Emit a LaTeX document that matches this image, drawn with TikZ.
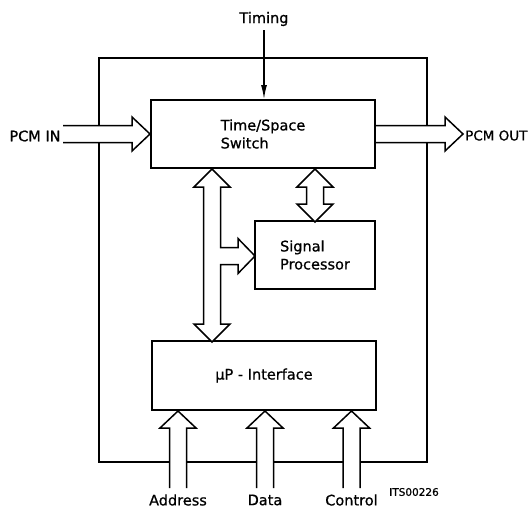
\documentclass[tikz,border=0pt]{standalone}
\usepackage{fontspec}
\setmainfont{DejaVu Sans}[FakeBold=0.8]
\usetikzlibrary{arrows.meta,calc}
\pgfdeclarelayer{bg}
\pgfsetlayers{bg,main}
\tikzset{
  box/.style={draw, line width=2pt, inner sep=0pt, font=\fontsize{14.5}{18}\selectfont},
  lbl/.style={inner sep=0pt, font=\fontsize{14.5}{17}\selectfont},
  fat/.style={draw, fill=white, line width=1.5pt, line join=miter},
  fatline/.style={draw, line width=1.5pt, line join=miter},
  framebox/.style={draw, line width=2.6pt, inner sep=0pt},
}
\newcommand{\openfat}[1]{\fill[white] #1 -- cycle; \path[fatline] #1;}
\begin{document}
\begin{tikzpicture}[x=1pt,y=-1pt]
\useasboundingbox (0,0) rectangle (531,517);
% boxes
\node[box, minimum width=224pt, minimum height=68pt, align=left] (sw) at (263,134) {Time/Space\\Switch};
\node[box, minimum width=120pt, minimum height=68pt, align=left] (sp) at (315,255) {Signal\\Processor};
\node[box, minimum width=224pt, minimum height=69pt] (up) at (264,375.5) {µP - Interface};
% labels
\node[lbl] (timing) at (264,19) {Timing};
\node[lbl] (pcmin) at (35,136) {PCM IN};
\node[lbl, anchor=west, font=\fontsize{13.5}{16}\selectfont] (pcmout) at (465,135.5) {PCM OUT};
\node[lbl] (addr) at (178,500) {Address};
\node[lbl] (data) at (265,500) {Data};
\node[lbl] (ctrl) at (351.5,500) {Control};
\node[inner sep=0pt, font=\fontsize{10.5}{12}\selectfont] (its) at (414,492) {ITS00226};
\begin{pgfonlayer}{bg}
\node[framebox, minimum width=328pt, minimum height=404pt] (frame) at (263,260) {};
% PCM IN
\begin{scope}[shift={(sw.west)}]
\openfat{(-87,-8.5) -- (-18,-8.5) -- (-18,-17) -- (0,0) -- (-18,17) -- (-18,8.5) -- (-87,8.5)}
\end{scope}
% PCM OUT
\begin{scope}[shift={(sw.east)}]
\openfat{(0,-8.5) -- (69,-8.5) -- (69,-17) -- (87,0) -- (69,17) -- (69,8.5) -- (0,8.5)}
\end{scope}
% bottom inputs
\foreach \nm/\dx in {addr/-86, data/1, ctrl/87.5}{
\begin{scope}[shift={($(up.south)+(\dx,0)$)}]
\openfat{(-8.5,77) -- (-8.5,17) -- (-18,17) -- (0,0) -- (18,17) -- (8.5,17) -- (8.5,77)}
\end{scope}
}
\end{pgfonlayer}
% Timing
\draw[line width=1.2pt, -{Latex[length=14pt,width=6pt]}] (timing.south) ++(0,4) -- (timing.south |- sw.north);
% T-shaped double arrow switch <-> uP, branch to signal processor
\begin{scope}[shift={($(sw.south)+(-51,0)$)}]
\path[fat] (0,0) -- (18,18) -- (8.5,18) -- (8.5,78.5) -- (26,78.5) -- (26,69.5) -- (43,87) -- (26,104.5) -- (26,95.5) -- (8.5,95.5) -- (8.5,155) -- (18,155) -- (0,173) -- (-18,155) -- (-8.5,155) -- (-8.5,18) -- (-18,18) -- cycle;
\end{scope}
% switch <-> signal processor
\begin{scope}[shift={($(sw.south)+(52,0)$)}]
\path[fat] (0,0) -- (18,18) -- (8.5,18) -- (8.5,35) -- (18,35) -- (0,53) -- (-18,35) -- (-8.5,35) -- (-8.5,18) -- (-18,18) -- cycle;
\end{scope}
\end{tikzpicture}
\end{document}
